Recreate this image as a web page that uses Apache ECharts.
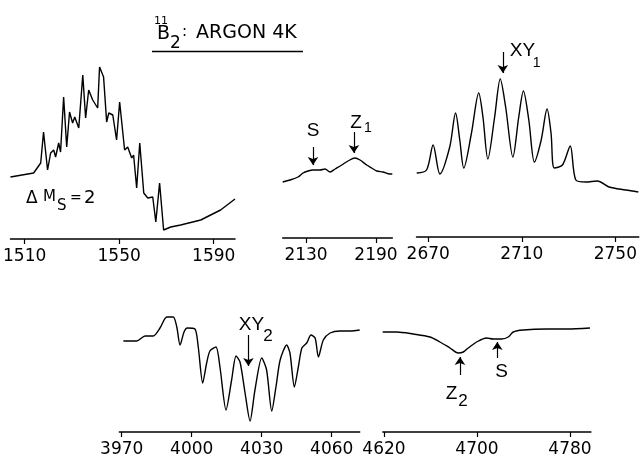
<!DOCTYPE html>
<html>
<head>
<meta charset="utf-8">
<script src="https://cdn.jsdelivr.net/npm/echarts@6/dist/echarts.min.js"></script>
<style>
html,body{margin:0;padding:0;background:#fff;}
#chart{width:640px;height:465px;}
</style>
</head>
<body>
<div id="chart"></div>
<script>
// ---- Data (field in gauss, signal in arbitrary units) ----
// Panel 1: ΔMs = 2 region
const p1Field = [1504,1513.8,1516.8,1518,1519.7,1521,1522.3,1523.1,1524.4,1525.2,1526.5,1527.8,1529,1530.3,1531.2,1532.9,1534.6,1535.8,1537.1,1538.8,1540.9,1541.7,1543.4,1544.7,1545.6,1547.3,1548.9,1550.2,1552.3,1553.6,1555.3,1556.1,1557.4,1558.7,1560.4,1562.1,1564.2,1565.5,1567.1,1568.8,1571.8,1576,1584.5,1592.9,1599];
const p1Signal = [62,66,76,107,69,86,89,82,96,87,142,92,127,116,122,111,164,121,149,139,131,172,162,117,126,124,99,137,89,92,81,84,51,96,46,41,42,17,56,9,12,14,19,29,40];
// Panel 2: S and Z1
const p2Field = [2110,2116.3,2123.1,2127.4,2131.7,2136,2142,2146.3,2150.6,2154.9,2160.6,2166,2172,2176.3,2182,2186.3,2190.6,2196,2202,2204];
const p2Signal = [56,58,61,65,67,68,68,69,66,69,73,77,80,78,73,70,67,66,64,64];
// Panel 3: XY1
const p3Field = [2665.1,2669.3,2672.1,2675,2679.2,2681.7,2683.5,2685.2,2688.5,2691.6,2693.4,2695.5,2698.4,2700.8,2703.1,2706.2,2708.7,2710.7,2713,2715.4,2718.3,2720.8,2722.5,2723.9,2727.4,2730.7,2733.1,2737.4,2742.3,2747.3,2754.4,2759.8];
const p3Signal = [64,67,92,63,90,124,97,69,104,144,120,78,120,158,130,80,120,146,117,75,97,128,104,69,72,91,57,55,56,50,47,45];
// Panel 4: XY2
const p4Field = [3970.7,3976.4,3980,3983.5,3986.4,3989.3,3992.1,3993.6,3995,3996.7,3998.1,4001.4,4002.8,4004.7,4006.4,4007.8,4010.4,4012.1,4014.7,4017.1,4019,4020.7,4022.8,4025,4027.1,4030,4032.1,4034.3,4036.1,4037.9,4040.7,4042.1,4044,4045.7,4047.2,4049.3,4051.1,4052.9,4054.3,4056.4,4059.3,4063.6,4067.9,4072];
const p4Signal = [91,91,96,96,104,115,115,105,87,100,104,103,85,49,69,81,85,65,22,52,76,70,40,11,42,74,62,21,45,72,87,79,45,65,84,89,97,94,75,92,99,101,101,102];
// Panel 5: Z2 and S
const p5Field = [4618.9,4630.9,4645.2,4659.6,4668.2,4676.8,4683.9,4688.2,4692.5,4699.7,4708.3,4714,4721.2,4726.9,4731.2,4739.8,4759.9,4777.2,4797.2];
const p5Signal = [100,100,98,95,90,84,79,80,84,90,94,93,93,95,100,102,103,103,104];

// Tick labels
const p1Ticks = [1510,1550,1590];
const p2Ticks = [2130,2190];
const p3Ticks = [2670,2710,2750];
const p4Ticks = [3970,4000,4030,4060];
const p5Ticks = [4620,4700,4780];

// Axis ranges
const p1Range = [1504,1599];
const p2Range = [2110,2204];
const p3Range = [2665,2760];
const p4Range = [3969,4072];
const p5Range = [4619,4798];

// Annotations: arrows [field, tailSignal, headSignal]
const p2Arrows = [[2136,91,73],[2171.1,106,85]];
const p3Arrows = [[2701.9,185,164]];
const p4Arrows = [[4024.3,97,66]];
const p5Arrows = [[4685.4,57,75],[4717.5,74,90]];
// Annotation labels [text, field, signal, size]
const p2Labels = [['S',2136,107,19],['Z',2172.9,115.5,19],['1',2183,110,14]];
const p3Labels = [['XY',2710.3,186.5,19],['1',2716.3,174,14]];
const p4Labels = [['XY',4025.6,107.5,19],['2',4032.7,96,17]];
const p5Labels = [['Z',4678.2,38,19],['2',4688,31,17],['S',4721.2,60.5,19]];

const grids = [
  {left:10, top:40, width:225, height:199},
  {left:282.7, top:40, width:109.6, height:198},
  {left:416.5, top:40, width:223.3, height:197},
  {left:119.4, top:290, width:240.3, height:142},
  {left:382.8, top:290, width:208.1, height:142}
];
const fields = [p1Field,p2Field,p3Field,p4Field,p5Field];
const signals = [p1Signal,p2Signal,p3Signal,p4Signal,p5Signal];
const ticks = [p1Ticks,p2Ticks,p3Ticks,p4Ticks,p5Ticks];
const ranges = [p1Range,p2Range,p3Range,p4Range,p5Range];
const arrows = [[],p2Arrows,p3Arrows,p4Arrows,p5Arrows];
const labels = [[],p2Labels,p3Labels,p4Labels,p5Labels];
const smoothing = [false,0.3,0.3,0.25,0.3];

const FONT = 'Liberation Sans';

const xAxes = grids.map((g,i)=>({
  type:'value', gridIndex:i, min:ranges[i][0], max:ranges[i][1],
  splitLine:{show:false},
  axisLine:{show:true, lineStyle:{color:'#000', width:1.5}},
  axisTick:{show:true, length:5, lineStyle:{color:'#000', width:1.2}, customValues:ticks[i]},
  axisLabel:{show:true, color:'#000', fontSize:17, fontFamily:'DejaVu Sans', margin:9, customValues:ticks[i],
             formatter:function(v){ return String(v); }}
}));
const yAxes = grids.map((g,i)=>({
  type:'value', gridIndex:i, min:0, max:g.height, show:false
}));
const series = grids.map((g,i)=>({
  type:'line', xAxisIndex:i, yAxisIndex:i,
  data: fields[i].map((f,j)=>[f, signals[i][j]]),
  showSymbol:false, symbol:'none', smooth:smoothing[i],
  lineStyle:{color:'#000', width:1.4},
  silent:true,
  markLine: arrows[i].length ? {
    silent:true, symbol:['none','arrow'], symbolSize:8,
    lineStyle:{color:'#000', width:1.2, type:'solid'},
    label:{show:false},
    data: arrows[i].map(a=>[{coord:[a[0],a[1]]},{coord:[a[0],a[2]]}])
  } : undefined,
  markPoint: labels[i].length ? {
    silent:true, symbol:'circle', symbolSize:0,
    data: labels[i].map(l=>({
      coord:[l[1],l[2]], name:l[0],
      label:{show:true, position:'inside', formatter:l[0], color:'#000', fontSize:l[3], fontFamily:FONT}
    }))
  } : undefined
}));

const chart = echarts.init(document.getElementById('chart'), null, {renderer:'canvas'});
chart.setOption({
  animation:false,
  backgroundColor:'#fff',
  grid: grids,
  xAxis: xAxes,
  yAxis: yAxes,
  series: series,
  graphic: [
    {type:'text', left:154, top:16, style:{text:'11', fontSize:11, fontFamily:'DejaVu Sans', fill:'#000'}},
    {type:'text', left:157, top:25, style:{text:'B', fontSize:19, fontFamily:'DejaVu Sans', fill:'#000'}},
    {type:'text', left:170, top:35, style:{text:'2', fontSize:17, fontFamily:'DejaVu Sans', fill:'#000'}},
    {type:'text', left:182, top:25, style:{text:':', fontSize:15, fontFamily:'DejaVu Sans', fill:'#000'}},
    {type:'text', left:196, top:24, style:{text:'ARGON 4K', fontSize:19, fontFamily:'DejaVu Sans', fill:'#000'}},
    {type:'line', shape:{x1:152, y1:51.5, x2:303, y2:51.5}, style:{stroke:'#000', lineWidth:1.3}},
    {type:'text', left:26, top:190, style:{text:'\u0394', fontSize:17, fontFamily:'DejaVu Sans', fill:'#000'}},
    {type:'text', left:43, top:190, style:{text:'M', fontSize:15, fontFamily:'DejaVu Sans', fill:'#000'}},
    {type:'text', left:57, top:199, style:{text:'S', fontSize:15, fontFamily:'DejaVu Sans', fill:'#000'}},
    {type:'text', left:70, top:191, style:{text:'=', fontSize:14, fontFamily:'DejaVu Sans', fill:'#000'}},
    {type:'text', left:84, top:189, style:{text:'2', fontSize:18, fontFamily:'DejaVu Sans', fill:'#000'}}
  ]
});
</script>
</body>
</html>
